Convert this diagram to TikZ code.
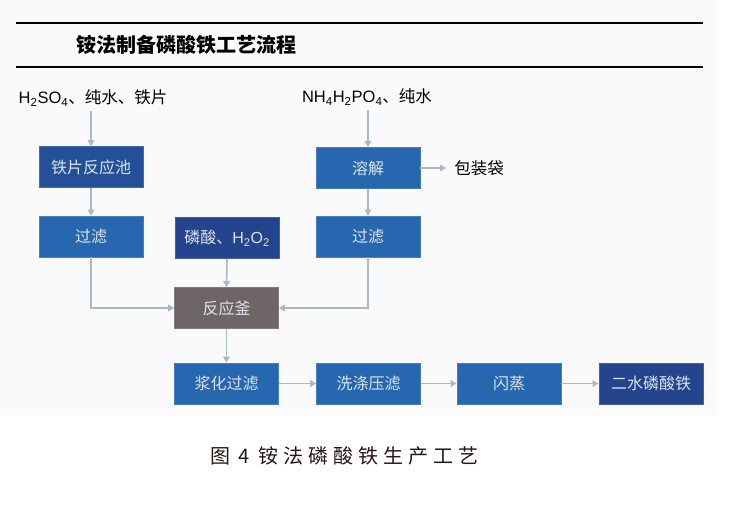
\documentclass[tikz,border=0pt]{standalone}
\usepackage{fontspec}
\setmainfont{Liberation Sans}
\newfontfamily\cjk{Noto Sans CJK SC}
\newfontfamily\lat{Liberation Sans}
\usetikzlibrary{arrows.meta}
\definecolor{arrowc}{HTML}{A9B9CA}
\definecolor{bdark}{HTML}{24509A}
\definecolor{bmid}{HTML}{2667B0}
\definecolor{bnavy}{HTML}{25448E}
\definecolor{bgray}{HTML}{6D6566}
\definecolor{btext}{HTML}{DCE3EE}
\definecolor{captc}{HTML}{231815}
\tikzset{
  procbox/.style={fill=#1, draw=#1!85!white, line width=0.6pt, minimum width=104pt, minimum height=41pt,
    inner sep=0pt, text=btext, font=\cjk\fontsize{16}{18}\selectfont},
  lbl/.style={inner sep=0pt, text=black, font=\cjk\fontsize{16.5}{19}\selectfont},
  arr/.style={draw=arrowc, line width=1.6pt, -{Triangle[length=6pt,width=6.5pt]}},
  ln/.style={draw=arrowc, line width=1.6pt}
}
\begin{document}
\begin{tikzpicture}[x=1pt,y=-1pt]
\useasboundingbox (0,0) rectangle (750,518);
\fill[white] (0,0) rectangle (750,518);
\fill[black!2] (0,0) rectangle (717,415);
% title
\draw[line width=1.8pt] (16,23) -- (703,23);
\draw[line width=1.8pt] (16,67) -- (703,67);
\node[inner sep=0pt, font=\cjk\bfseries\fontsize{20}{22}\selectfont] (title) at (186,45) {铵法制备磷酸铁工艺流程};
% labels
\node[lbl] (t1) at (93,98) {{\lat H\textsubscript{2}SO\textsubscript{4}}、纯水、铁片};
\node[lbl] (t2) at (367,97) {{\lat NH\textsubscript{4}H\textsubscript{2}PO\textsubscript{4}}、纯水};
\node[lbl] (t3) at (479,168) {包装袋};
% boxes
\node[procbox=bdark] (b1) at (91,167) {铁片反应池};
\node[procbox=bmid] (b2) at (91,236.5) {过滤};
\node[procbox=bnavy] (b3) at (227,238) {磷酸、{\lat H\textsubscript{2}O\textsubscript{2}}};
\node[procbox=bmid] (b4) at (368,168) {溶解};
\node[procbox=bmid] (b5) at (368,236.5) {过滤};
\node[procbox=bgray] (b6) at (226.5,308) {反应釜};
\node[procbox=bmid] (b7) at (226.5,383.5) {浆化过滤};
\node[procbox=bmid] (b8) at (368.5,383.5) {洗涤压滤};
\node[procbox=bmid] (b9) at (509,383.5) {闪蒸};
\node[procbox=bnavy] (b10) at (651,383.5) {二水磷酸铁};
% connectors
\coordinate (c1) at (b2.south |- b6.west);
\coordinate (c2) at (b5.south |- b6.east);
\draw[arr] ([yshift=-5pt]t1.south -| b1.north) -- (b1.north);
\draw[arr] (b1.south) -- (b2.north);
\draw[arr] ([yshift=-5pt]t2.south -| b4.north) -- (b4.north);
\draw[arr] (b4.east) -- ([xshift=-8pt]t3.west);
\draw[arr] (b4.south) -- (b5.north);
\draw[arr] (b3.south) -- (b6.north);
\draw[arr] (b2.south) -- (c1) -- (b6.west);
\draw[arr] (b5.south) -- (c2) -- (b6.east);
\draw[arr] (b6.south) -- (b7.north);
\draw[arr] (b7.east) -- (b8.west);
\draw[arr] (b8.east) -- (b9.west);
\draw[arr] (b9.east) -- (b10.west);
% caption
\node[inner sep=0pt, text=captc, font=\cjk\fontsize{20}{22}\selectfont] (cap) at (344.5,456)
  {图\hspace{8pt}4\hspace{9pt}铵\hspace{5pt}法\hspace{5pt}磷\hspace{5pt}酸\hspace{5pt}铁\hspace{5pt}生\hspace{5pt}产\hspace{5pt}工\hspace{5pt}艺};
\end{tikzpicture}
\end{document}
